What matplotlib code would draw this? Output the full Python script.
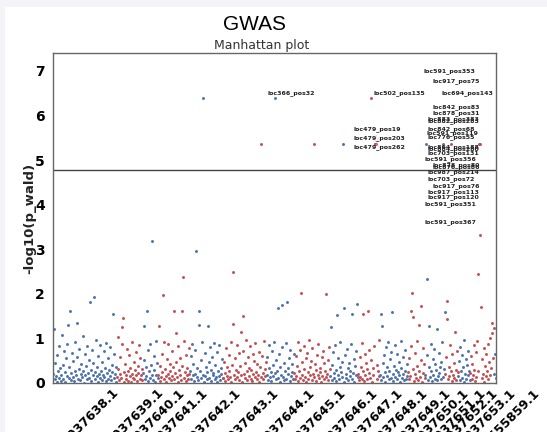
import numpy as np
import matplotlib
matplotlib.use("Agg")
import matplotlib.pyplot as plt
from matplotlib.patches import Rectangle

# chromosome names (x tick labels)
chrom_names = ["NC_037638.1", "NC_037639.1", "NC_037640.1", "NC_037641.1",
               "NC_037642.1", "NC_037643.1", "NC_037644.1", "NC_037645.1",
               "NC_037646.1", "NC_037647.1", "NC_037648.1", "NC_037649.1",
               "NC_037650.1", "NC_037651.1", "NC_037652.1", "NC_037653.1",
               "NW_020555859.1"]

# -log10(p_wald) per SNP, in order along each chromosome
chr01 = [0.21, 1.21, 0.08, 0.45, 0.15, 0.62, 0.03, 0.27, 0.84, 0.12, 0.33, 0.05,
         0.19, 1.07, 0.41, 0.09, 0.71, 0.24, 0.02, 0.55, 0.16, 0.88, 1.30, 0.11,
         0.36, 1.61, 0.07, 0.22, 0.68, 0.14, 0.49, 0.04, 0.93, 0.26, 0.18, 0.58,
         1.34, 0.10, 0.31, 0.77, 0.06, 0.20, 0.43, 0.13, 1.05, 0.28, 0.01, 0.64,
         0.17, 0.39, 0.09, 0.83, 0.23, 0.52, 0.12, 1.81, 0.30, 0.05, 0.74, 0.19,
         0.44, 1.92, 0.08, 0.25, 0.96, 0.15, 0.35, 0.02, 0.61, 0.21, 0.11, 0.86,
         0.27, 0.06, 0.48, 0.18, 0.72, 0.13, 0.33, 0.04, 0.90, 0.22, 0.57, 0.10,
         0.29, 0.16, 0.81, 0.07, 0.40, 0.24, 1.54, 0.12, 0.66, 0.20, 0.03, 0.35]
chr02 = [0.14, 0.32, 1.03, 0.06, 0.58, 0.21, 0.11, 0.87, 1.25, 1.46, 0.03, 0.25,
         0.42, 0.09, 0.18, 0.76, 0.27, 0.05, 0.63, 0.15, 0.34, 0.02, 0.91, 0.20,
         0.12, 0.47, 0.08, 0.29, 0.69, 0.17, 0.04, 0.38, 0.23, 0.85, 0.10, 0.55,
         0.19, 0.07, 0.31]
chr03 = [0.22, 0.51, 1.27, 0.09, 0.36, 0.15, 1.61, 0.04, 0.73, 0.26, 0.88, 0.12,
         0.41, 0.19, 3.18, 0.07, 0.60, 0.30, 0.02, 0.94, 0.17, 0.45, 0.11]
chr04 = [0.18, 1.27, 0.05, 0.39, 0.13, 0.66, 0.24, 1.97, 0.08, 0.92, 0.31, 0.15,
         0.02, 0.54, 0.20, 0.87, 0.11, 0.43, 0.27, 0.06, 0.71, 0.16, 0.35, 0.09,
         1.61, 0.23, 0.48, 1.12, 0.14, 0.03, 0.82, 0.29, 0.19, 0.57, 0.07, 0.38,
         1.61, 2.37, 0.12, 0.95, 0.25, 0.04, 0.63, 0.17, 0.33, 0.10, 0.78, 0.21]
chr05 = [0.26, 0.61, 0.09, 0.88, 0.17, 0.42, 0.04, 0.75, 0.21, 2.95, 0.13, 0.34,
         0.07, 1.30, 1.61, 0.28, 0.52, 0.11, 0.93, 0.19, 6.40, 0.02, 0.67, 0.15,
         0.37, 0.24, 0.08, 1.27, 0.46, 0.12, 0.81, 0.30, 0.05, 0.58, 0.18, 0.22,
         0.90, 0.10, 0.40, 0.14, 0.03, 0.69, 0.27, 0.16, 0.85, 0.06, 0.33, 0.20,
         0.53, 0.11]
chr06 = [0.12, 0.47, 0.23, 0.05, 0.79, 0.16, 0.36, 0.09, 0.63, 0.28, 0.14, 0.92,
         0.03, 0.41, 1.32, 2.48, 0.19, 0.55, 0.08, 0.30, 0.86, 0.13, 0.24, 0.67,
         0.06, 0.38, 1.14, 0.17, 0.02, 0.72, 1.50, 0.21, 0.45, 0.11, 0.97, 0.26,
         0.07, 0.59, 0.15, 0.33, 0.83, 0.10, 0.29, 0.04, 0.65, 0.20, 0.50, 0.13,
         0.89, 0.25, 0.08, 0.42, 0.18, 0.70, 0.03, 0.35, 0.14, 5.37, 0.61, 0.22,
         0.09, 0.94, 0.31, 0.16, 0.48]
chr07 = [0.19, 0.58, 0.07, 0.34, 0.86, 0.13, 0.25, 0.04, 0.71, 0.40, 0.16, 0.93,
         6.40, 0.22, 0.09, 0.52, 0.28, 1.68, 0.11, 0.64, 0.02, 0.37, 0.18, 0.81,
         1.75, 0.14, 0.45, 0.06, 0.27, 0.89, 0.10, 1.81, 0.33, 0.20, 0.57, 0.05,
         0.74, 0.15, 0.42, 0.24, 0.08, 0.66]
chr08 = [0.23, 0.08, 0.61, 0.15, 0.39, 0.92, 0.04, 0.27, 0.73, 0.12, 2.01, 0.46,
         0.19, 0.06, 0.84, 0.31, 0.14, 0.55, 0.02, 0.68, 0.25, 0.10, 0.96, 0.36,
         0.17, 0.49, 0.07, 0.78, 0.21, 0.13, 5.37, 0.42, 0.29, 0.05, 0.63, 0.18,
         0.87, 0.11, 0.34, 0.24, 0.03, 0.58, 0.16, 0.71, 0.09, 0.44, 0.28, 0.14,
         1.99, 0.20, 0.52, 0.06, 0.81, 0.32]
chr09 = [0.16, 1.25, 0.41, 0.07, 0.69, 0.22, 0.12, 0.85, 0.30, 0.04, 1.52, 0.18,
         0.57, 0.09, 0.36, 0.93, 0.25, 0.14, 0.48, 5.37, 1.68, 0.03, 0.62, 0.20,
         0.11, 0.77, 0.33, 0.06, 0.44, 0.27, 0.15, 0.88, 0.08, 1.54, 0.23, 0.53,
         0.02, 0.39, 0.19, 0.72, 1.77, 0.13]
chr10 = [0.21, 0.06, 0.58, 0.14, 0.37, 0.89, 0.10, 0.26, 1.54, 0.04, 0.66, 0.18,
         0.45, 0.09, 0.31, 1.61, 0.23, 0.75, 0.12, 6.40, 0.52, 0.02, 0.34, 0.17,
         0.83, 5.37, 5.37, 5.37, 0.08, 0.41, 0.27, 0.15, 0.97]
chr11 = [0.19, 1.54, 0.07, 1.27, 0.44, 0.13, 0.62, 0.25, 0.03, 0.80, 0.35, 0.16,
         0.92, 0.09, 0.28, 0.53, 0.11, 0.70, 1.59, 0.21, 0.05, 0.39, 0.86, 0.14,
         0.30, 0.08, 0.65, 0.24, 0.17, 0.47, 0.02, 0.95, 0.33, 0.12, 0.58, 0.20,
         0.06, 0.74, 0.27, 0.10, 0.42, 0.15]
chr12 = [0.24, 0.09, 0.57, 0.16, 0.83, 1.61, 2.01, 0.31, 1.48, 0.05, 0.68, 0.20,
         0.12, 0.94, 0.38, 0.07, 0.26, 1.30, 0.14, 0.51, 1.72, 0.03, 0.79, 0.22,
         0.43, 0.11]
chr13 = [0.18, 5.37, 0.62, 2.33, 0.07, 0.35, 1.27, 0.14, 0.88, 0.26, 0.04, 0.53,
         0.19, 0.76, 0.10, 0.42, 0.29, 0.06, 1.21, 0.15, 0.67, 0.23, 0.37, 0.09,
         0.48, 0.91, 0.13, 5.37, 0.32, 1.59]
chr14 = [0.21, 0.58, 1.43, 1.83, 0.08, 0.37, 0.16, 0.85, 0.27, 5.37, 0.04, 0.64,
         0.19, 0.45, 0.11, 1.14, 0.30, 0.06, 0.72, 0.24]
chr15 = [0.15, 0.49, 0.07, 0.81, 0.26, 0.12, 0.63, 0.35, 0.03, 0.97, 0.20, 0.54,
         0.09, 0.40, 0.72, 0.17, 0.28, 0.06]
chr16 = [0.23, 0.61, 0.08, 0.42, 0.17, 0.86, 0.30, 0.05, 0.69, 0.14, 0.95, 0.26,
         2.44, 5.37, 5.37, 3.33, 1.70, 0.11, 0.53, 0.20, 0.78, 0.03, 0.38, 0.16,
         0.64, 0.28, 0.09, 0.88, 0.46, 0.19, 1.02, 0.33, 1.12, 1.34, 0.57, 1.23]
chr17 = [0.21, 0.64, 0.12]

chrom_values = [chr01, chr02, chr03, chr04, chr05, chr06, chr07, chr08, chr09,
                chr10, chr11, chr12, chr13, chr14, chr15, chr16, chr17]

threshold = 4.78

# significant SNP labels, placed by hand the way adjustText left them
snp_labels = ["loc366_pos32", "loc502_pos135", "loc479_pos19", "loc479_pos203",
              "loc479_pos262", "loc591_pos353", "loc917_pos75", "loc694_pos143",
              "loc842_pos83", "loc878_pos31", "loc883_pos383", "loc882_pos283",
              "loc842_pos68", "loc591_pos119", "loc776_pos55", "loc864_pos188",
              "loc884_pos280", "loc703_pos131", "loc591_pos356", "loc878_pos80",
              "loc876_pos86", "loc987_pos214", "loc703_pos72", "loc917_pos76",
              "loc917_pos113", "loc917_pos120", "loc591_pos351", "loc591_pos367"]
# label anchor (left, centre) in pixels of the 547x432 picture
label_px = [(268, 93), (373, 93), (353, 129), (353, 138), (353, 147),
            (423, 71), (432, 81), (441, 93), (432, 107), (432, 113),
            (428, 119), (428, 121), (428, 129), (426, 133), (428, 137),
            (428, 147), (428, 149), (428, 153), (424, 159), (432, 165),
            (432, 167), (428, 172), (428, 179), (432, 186), (428, 192),
            (428, 197), (424, 204), (424, 222)]

colors = ["#4c72b0", "#c44e52"]

W, H = 547, 432
fig = plt.figure(figsize=(W / 100, H / 100), dpi=100)
fig.patch.set_facecolor("#f4f4f8")
fig.add_artist(Rectangle((5 / W, 0), 1, 1 - 7 / H, transform=fig.transFigure,
                         facecolor="white", edgecolor="none", zorder=-1))

ax_l, ax_r, ax_t, ax_b = 53, 496, 53, 383
ax = fig.add_axes([ax_l / W, (H - ax_b) / H, (ax_r - ax_l) / W, (ax_b - ax_t) / H])

start = 0
ticks = []
starts = []
for i, vals in enumerate(chrom_values):
    x = np.arange(start, start + len(vals))
    ax.scatter(x, vals, s=4.5, color=colors[i % 2], linewidths=0, zorder=2)
    ticks.append(start + (len(vals) - 1) / 2)
    starts.append(start)
    start += len(vals)

ax.set_xlim(-0.5, start - 0.5)
ymax = max(max(v) for v in chrom_values)
ax.set_ylim(0, ymax + 1)
ax.axhline(threshold, color="#444444", lw=1, zorder=1)

for s in ax.spines.values():
    s.set_color("#666666")
    s.set_linewidth(1.0)

ax.set_xticks(ticks)
ax.set_xticklabels(chrom_names, rotation=45, fontweight="bold", fontsize=9)
ax.set_yticks(range(8))
ax.set_yticklabels([str(v) for v in range(8)], fontweight="bold", fontsize=10)
ax.tick_params(length=0)
ax.tick_params(axis="y", pad=6)
ax.tick_params(axis="x", pad=2)

# loc479 labels connect to their SNPs on NC_037647.1
loc479_x = starts[9] + 26
for lab, (px, py) in zip(snp_labels, label_px):
    fx = (px - ax_l) / (ax_r - ax_l)
    fy = (ax_b - py) / (ax_b - ax_t)
    if lab.startswith("loc479"):
        ax.annotate(lab, xy=(loc479_x, 5.37), xycoords="data",
                    xytext=(fx, fy), textcoords="axes fraction",
                    ha="left", va="center", fontsize=4.5, fontweight="bold",
                    color="#222222",
                    arrowprops=dict(arrowstyle="-", color="#cccccc", lw=0.4,
                                    shrinkA=0, shrinkB=1))
    else:
        ax.text(fx, fy, lab, transform=ax.transAxes, ha="left", va="center",
                fontsize=4.5, fontweight="bold", color="#222222")

fig.text(255 / W, 1 - 30 / H, "GWAS", ha="center", va="baseline",
         fontsize=15, family="Liberation Sans")
fig.text(262 / W, 1 - 49 / H, "Manhattan plot", ha="center", va="baseline",
         fontsize=9, color="#333333")
fig.text(30 / W, 1 - 218 / H, "-log10(p_wald)", rotation=90, ha="center",
         va="center", fontsize=9.5, fontweight="bold", color="#222222")

fig.savefig("out.png", dpi=100, facecolor=fig.get_facecolor())
